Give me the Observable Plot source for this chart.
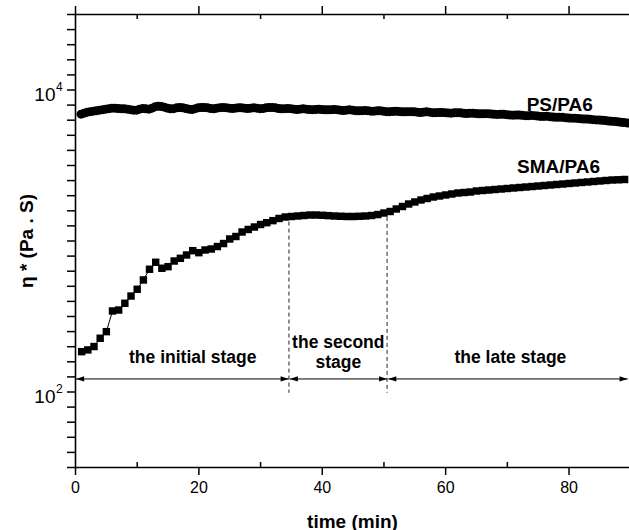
<!DOCTYPE html>
<html><head><meta charset="utf-8">
<script src="https://cdn.jsdelivr.net/npm/d3@7"></script>
<script src="https://cdn.jsdelivr.net/npm/@observablehq/plot@0.6"></script>
<style>body{margin:0;background:#fff} svg{display:block}</style>
</head><body><div id="chart"></div>
<script>
// PS/PA6 complex viscosity (Pa.s), one reading every 0.5 min starting at 0.9 min
const psValues = [
  6920,7026,7134,7188,7243,7298,7354,7410,7467,7524,
  7581,7581,7547,7524,7501,7467,7410,7354,7354,7467,
  7547,7501,7467,7581,7733,7816,7780,7698,7581,7501,
  7524,7616,7663,7616,7547,7467,7433,7524,7616,7663,
  7663,7616,7547,7501,7581,7639,7663,7639,7581,7547,
  7581,7616,7616,7581,7547,7581,7616,7581,7524,7547,
  7616,7663,7663,7616,7547,7501,7524,7547,7524,7467,
  7433,7467,7501,7467,7433,7410,7433,7467,7433,7388,
  7388,7410,7433,7410,7354,7321,7354,7388,7354,7298,
  7276,7298,7321,7298,7243,7243,7276,7276,7243,7188,
  7188,7210,7243,7210,7166,7166,7188,7188,7166,7134,
  7101,7134,7166,7134,7080,7080,7101,7101,7080,7048,
  7026,7058,7080,7058,7015,6994,7015,7026,6994,6952,
  6952,6973,6973,6941,6899,6889,6910,6910,6868,6836,
  6816,6836,6836,6795,6764,6764,6785,6764,6723,6682,
  6682,6692,6662,6621,6601,6611,6601,6561,6522,6512,
  6512,6482,6443,6423,6423,6404,6365,6336,6326,6307,
  6269,6231,6212,6193,6155,6118,6081,6053,6026,5989
];
const psStart = 0.9, psStep = 0.5;

// SMA/PA6 complex viscosity (Pa.s), one reading per minute from 1 min
const smaValues = [
  185,190,200,227,251,344,349,387,432,479,
  552,650,723,660,676,737,768,808,863,837,
  872,885,919,962,1031,1071,1147,1192,1238,1286,
  1322,1364,1410,1442,1453,1464,1475,1486,1486,1480,
  1472,1464,1458,1453,1453,1458,1464,1475,1497,1532,
  1568,1629,1692,1758,1813,1869,1912,1956,1986,2017,
  2048,2079,2095,2111,2144,2160,2176,2193,2210,2227,
  2244,2261,2278,2295,2313,2331,2349,2367,2385,2404,
  2422,2441,2459,2478,2497,2516,2535,2543,2555
];
const smaStart = 1, smaStep = 1;

const xMajorTicks = [0, 20, 40, 60, 80];
const xMinorTicks = [10, 30, 50, 70];
const yLabelExponents = [2, 4];
const yDomainExponents = [1.5, 4.5];

// stage annotations (time in min, viscosity in Pa.s)
const stageBounds = [34.6, 50.5];
const stageBoundTops = [1334, 1433];
const stageBoundBottom = 98;
const arrowLevel = 122;
const stageSpans = [[0.1, 34.55], [34.75, 50.5], [50.7, 89.5]];
const stageLabels = [
  {t: 19, v: 155.5, text: "the initial stage"},
  {t: 42.6, v: 144, text: "the second\nstage"},
  {t: 70.5, v: 155.5, text: "the late stage"}
];
const seriesLabels = [
  {t: 78.5, v: 7298, text: "PS/PA6"},
  {t: 78.3, v: 2800, text: "SMA/PA6"}
];
const xTitle = "time (min)";
const yTitle = "η * (Pa . S)";

const ps = psValues.map((v, i) => ({t: psStart + psStep * i, v}));
const sma = smaValues.map((v, i) => ({t: smaStart + smaStep * i, v}));
const yTicks = d3.range(yDomainExponents[0] * 10, yDomainExponents[1] * 10 + 1).map(k => Math.pow(10, k / 10));
const yDomain = yDomainExponents.map(e => Math.pow(10, e));
const bounds = stageBounds.map((t, i) => ({t, top: stageBoundTops[i], bottom: stageBoundBottom}));

const chart = Plot.plot({
  width: 629, height: 530,
  marginLeft: 75, marginRight: 0, marginTop: 14, marginBottom: 63,
  style: {fontFamily: "'Liberation Sans', Arial, sans-serif", fontSize: "16px", color: "#000", background: "#fff", overflow: "visible"},
  x: {domain: [0, 89.8]},
  y: {type: "log", domain: yDomain},
  marks: [
    Plot.axisX({ticks: xMajorTicks, tickSize: 8, tickPadding: 6, fontSize: 16, strokeWidth: 1.5, label: null}),
    Plot.axisY({ticks: yTicks, tickSize: 8, tickFormat: () => "", strokeWidth: 1.5, label: null}),
    Plot.ruleX(xMinorTicks, {insetTop: 448, strokeWidth: 1.5}),
    Plot.ruleX(xMinorTicks, {insetBottom: 448, strokeWidth: 1.5}),
    Plot.ruleX(xMajorTicks, {insetTop: -8, insetBottom: 453, strokeWidth: 1.5}),
    Plot.ruleX([0], {strokeWidth: 1.6}),
    Plot.ruleY(yDomain, {strokeWidth: 1.6}),
    Plot.text(yLabelExponents, {y: e => Math.pow(10, e), text: () => "10", frameAnchor: "left", textAnchor: "end", dx: -20, dy: 4.5, fontSize: 19}),
    Plot.text(yLabelExponents, {y: e => Math.pow(10, e), text: e => String(e), frameAnchor: "left", textAnchor: "start", dx: -19.5, dy: -2.5, fontSize: 12}),
    Plot.line(sma, {x: "t", y: "v", stroke: "#000", strokeWidth: 1, clip: true}),
    Plot.dot(sma, {x: "t", y: "v", symbol: "square", r: 4.2, fill: "#000", clip: true}),
    Plot.line(ps, {x: "t", y: "v", stroke: "#000", strokeWidth: 1, clip: true}),
    Plot.dot(ps, {x: "t", y: "v", r: 4.5, fill: "#000", clip: true}),
    Plot.ruleX(bounds, {x: "t", y1: "top", y2: "bottom", stroke: "#222", strokeWidth: 1, strokeDasharray: "4,3"}),
    Plot.link(stageSpans, {x1: d => d[0], x2: d => d[1], y1: () => arrowLevel, y2: () => arrowLevel, stroke: "#000", strokeWidth: 1, markerStart: "arrow", markerEnd: "arrow"}),
    Plot.text(stageLabels, {x: "t", y: "v", text: "text", lineAnchor: "bottom", lineHeight: 1.12, fontSize: 17.5, fontWeight: "bold"}),
    Plot.text(seriesLabels, {x: "t", y: "v", text: "text", lineAnchor: "bottom", fontSize: 19, fontWeight: "bold"}),
    Plot.text([xTitle], {frameAnchor: "bottom", dy: 60, lineAnchor: "bottom", fontSize: 19, fontWeight: "bold"}),
    Plot.text([yTitle], {frameAnchor: "left", rotate: -90, dx: -43, textAnchor: "middle", lineAnchor: "bottom", fontSize: 19, fontWeight: "bold"})
  ]
});

chart.querySelectorAll("marker").forEach(m => {
  m.setAttribute("viewBox", "-9 -4 10 8");
  m.setAttribute("markerWidth", 10);
  m.setAttribute("markerHeight", 8);
  m.setAttribute("markerUnits", "userSpaceOnUse");
  m.setAttribute("orient", "auto-start-reverse");
  m.setAttribute("fill", "#000");
  m.setAttribute("stroke", "none");
  const p = m.querySelector("path");
  if (p) p.setAttribute("d", "M-8,-2.6L0,0L-8,2.6Z");
});

document.getElementById("chart").appendChild(chart);
</script>
</body></html>
